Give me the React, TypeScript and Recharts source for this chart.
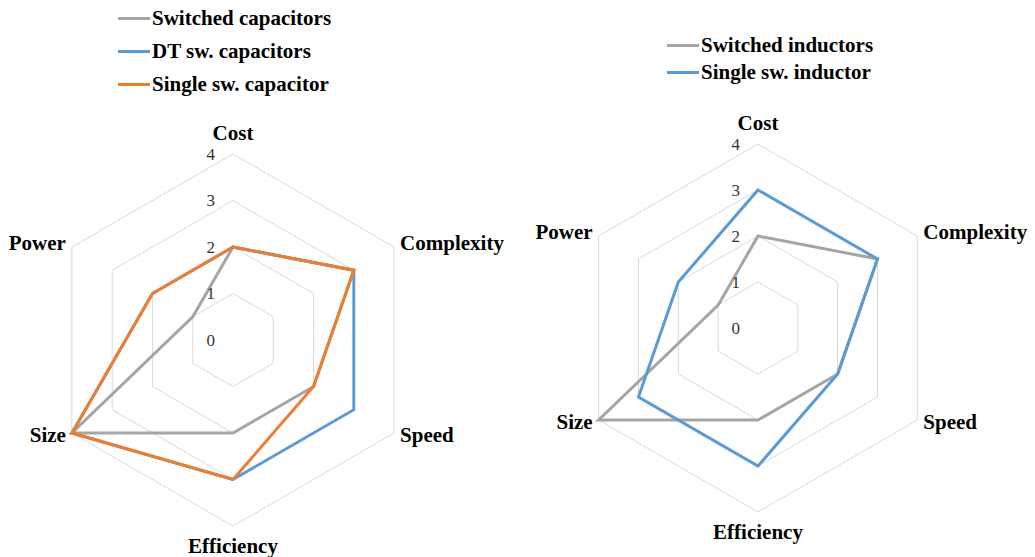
import React from "react"
import {
  RadarChart,
  Radar,
  PolarGrid,
  PolarAngleAxis,
  PolarRadiusAxis,
  Legend,
} from "recharts"

const CATEGORIES = ["Cost", "Complexity", "Speed", "Efficiency", "Size", "Power"]
const RADIUS_TICKS = [0, 1, 2, 3, 4]

// capacitor chart
const CAP_SERIES = ["Switched capacitors", "DT sw. capacitors", "Single sw. capacitor"]
const SWITCHED_CAPACITORS = [2, 3, 2, 2, 4, 1]
const DT_SW_CAPACITORS = [2, 3, 3, 3, 4, 2]
const SINGLE_SW_CAPACITOR = [2, 3, 2, 3, 4, 2]

// inductor chart
const IND_SERIES = ["Switched inductors", "Single sw. inductor"]
const SWITCHED_INDUCTORS = [2, 3, 2, 2, 4, 1]
const SINGLE_SW_INDUCTOR = [3, 3, 2, 3, 3, 2]

const GRAY = "#A5A5A5"
const BLUE = "#5B9BD5"
const ORANGE = "#ED7D31"
const FONT = '"Liberation Serif", "Times New Roman", serif'

const capData = CATEGORIES.map((name, i) => ({
  name,
  switched: SWITCHED_CAPACITORS[i],
  dt: DT_SW_CAPACITORS[i],
  single: SINGLE_SW_CAPACITOR[i],
}))

const indData = CATEGORIES.map((name, i) => ({
  name,
  switched: SWITCHED_INDUCTORS[i],
  single: SINGLE_SW_INDUCTOR[i],
}))

// label offsets per axis, Excel style
const LABEL_OFFSETS: Record<string, { dx: number; dy: number; anchor: string }> = {
  Cost: { dx: 0, dy: -21, anchor: "middle" },
  Complexity: { dx: 6, dy: -4, anchor: "start" },
  Speed: { dx: 6, dy: 2, anchor: "start" },
  Efficiency: { dx: 0, dy: 20, anchor: "middle" },
  Size: { dx: -6, dy: 2, anchor: "end" },
  Power: { dx: -6, dy: -4, anchor: "end" },
}

function makeAngleTick(cx: number, cy: number, r: number) {
  return (props: any) => {
    const value = props.payload.value
    const i = CATEGORIES.indexOf(value)
    const a = ((90 - i * 60) * Math.PI) / 180
    const px = cx + r * Math.cos(a)
    const py = cy - r * Math.sin(a)
    const off = LABEL_OFFSETS[value]
    return (
      <text
        x={px + off.dx}
        y={py + off.dy}
        textAnchor={off.anchor as any}
        dominantBaseline="central"
        fontFamily={FONT}
        fontWeight="bold"
        fontSize={21}
        fill="#000"
      >
        {value}
      </text>
    )
  }
}

const RadiusTick = (props: any) => (
  <text
    x={props.x - 18}
    y={props.y}
    textAnchor="end"
    dominantBaseline="central"
    fontFamily={FONT}
    fontSize={17}
    fill="#333"
  >
    {props.payload.value}
  </text>
)

function makeLegend(order: string[], rowHeight: number) {
  return (props: any) => {
    const items = [...props.payload].sort((a: any, b: any) => order.indexOf(a.value) - order.indexOf(b.value))
    return (
      <div style={{ fontFamily: FONT, fontWeight: "bold", fontSize: 21, color: "#000" }}>
        {items.map((entry: any) => (
          <div
            key={entry.value}
            style={{ display: "flex", alignItems: "center", height: rowHeight, whiteSpace: "nowrap" }}
          >
            <span style={{ display: "inline-block", width: 32, height: 3, background: entry.color }} />
            <span style={{ marginLeft: 2 }}>{entry.value}</span>
          </div>
        ))}
      </div>
    )
  }
}

const NO_MARGIN = { top: 0, right: 0, bottom: 0, left: 0 }

export default function App() {
  const capCx = 233
  const capCy = 340
  const capR = 186
  const indCx = 238
  const indCy = 328
  const indR = 184

  return (
    <div style={{ position: "absolute", left: 0, top: 0, width: 1035, height: 557, background: "#fff" }}>
      <div style={{ position: "absolute", left: 0, top: 0 }}>
        <RadarChart width={520} height={557} data={capData} cx={capCx} cy={capCy} outerRadius={capR} margin={NO_MARGIN}>
          <PolarGrid radialLines={false} stroke="#D9D9D9" />
          <PolarAngleAxis dataKey="name" tick={makeAngleTick(capCx, capCy, capR)} tickLine={false} axisLine={false} />
          <PolarRadiusAxis
            angle={90}
            domain={[0, 4]}
            ticks={RADIUS_TICKS as any}
            tickCount={5}
            axisLine={false}
            tickLine={false}
            tick={RadiusTick}
          />
          <Radar name={CAP_SERIES[0]} dataKey="switched" stroke={GRAY} strokeWidth={3} fill="none" fillOpacity={0} dot={false} isAnimationActive={false} />
          <Radar name={CAP_SERIES[1]} dataKey="dt" stroke={BLUE} strokeWidth={3} fill="none" fillOpacity={0} dot={false} isAnimationActive={false} />
          <Radar name={CAP_SERIES[2]} dataKey="single" stroke={ORANGE} strokeWidth={3} fill="none" fillOpacity={0} dot={false} isAnimationActive={false} />
          <Legend
            layout="horizontal"
            verticalAlign="middle"
            align="center"
            content={makeLegend(CAP_SERIES, 33)}
            wrapperStyle={{ position: "absolute", left: 118, top: 1.5, width: 280 }}
          />
        </RadarChart>
      </div>
      <div style={{ position: "absolute", left: 520, top: 0 }}>
        <RadarChart width={515} height={557} data={indData} cx={indCx} cy={indCy} outerRadius={indR} margin={NO_MARGIN}>
          <PolarGrid radialLines={false} stroke="#D9D9D9" />
          <PolarAngleAxis dataKey="name" tick={makeAngleTick(indCx, indCy, indR)} tickLine={false} axisLine={false} />
          <PolarRadiusAxis
            angle={90}
            domain={[0, 4]}
            ticks={RADIUS_TICKS as any}
            tickCount={5}
            axisLine={false}
            tickLine={false}
            tick={RadiusTick}
          />
          <Radar name={IND_SERIES[0]} dataKey="switched" stroke={GRAY} strokeWidth={3} fill="none" fillOpacity={0} dot={false} isAnimationActive={false} />
          <Radar name={IND_SERIES[1]} dataKey="single" stroke={BLUE} strokeWidth={3} fill="none" fillOpacity={0} dot={false} isAnimationActive={false} />
          <Legend
            layout="horizontal"
            verticalAlign="middle"
            align="center"
            content={makeLegend(IND_SERIES, 27)}
            wrapperStyle={{ position: "absolute", left: 147, top: 31.5, width: 280 }}
          />
        </RadarChart>
      </div>
    </div>
  )
}
